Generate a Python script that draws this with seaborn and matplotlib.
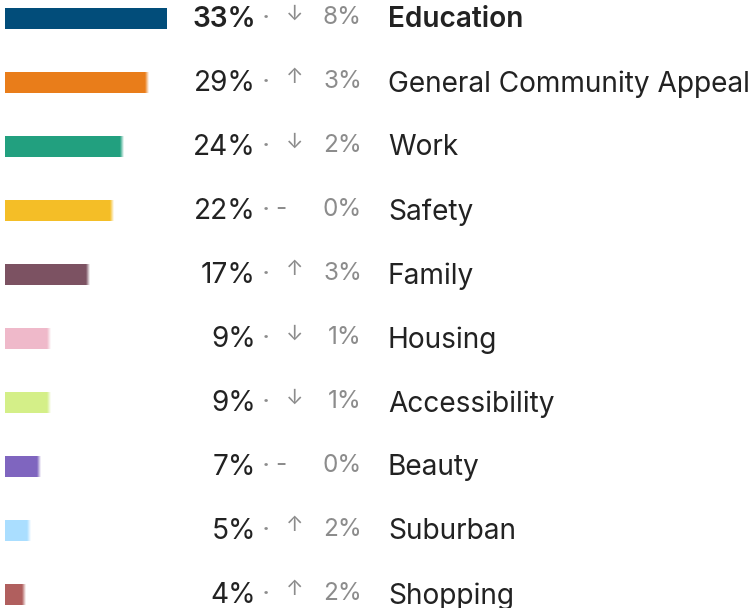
import matplotlib
matplotlib.use("Agg")
import matplotlib.pyplot as plt
import matplotlib.transforms as mtransforms
import numpy as np
import pandas as pd
import seaborn as sns

topics = ["Education", "General Community Appeal", "Work", "Safety", "Family",
          "Housing", "Accessibility", "Beauty", "Suburban", "Shopping"]
shares = [33, 29, 24, 22, 17, 9, 9, 7, 5, 4]
changes = [8, 3, 2, 0, 3, 1, 1, 0, 2, 2]
directions = ["down", "up", "down", "flat", "up", "down", "down", "flat", "up", "up"]
colors = ["#024D7A", "#E97D1A", "#22A07F", "#F4BE27", "#7C5262",
          "#EFB9CA", "#D4EF88", "#7F65BF", "#AADEFF", "#B05F5E"]

df = pd.DataFrame({"topic": topics, "share": shares})

sns.set_theme(style="white")
plt.rcParams["font.family"] = ["Inter", "DejaVu Sans"]

W, H = 752, 608
fig = plt.figure(figsize=(W / 100, H / 100), dpi=100)
ax = fig.add_axes([0, 0, 1, 1])

sns.barplot(data=df, x="share", y="topic", hue="topic", palette=colors,
            legend=False, orient="h", width=0.33, saturation=1,
            ax=ax, linewidth=0)

# pixel geometry: bars start 5px in, 1 percentage point ~ 4.9px, rows 64px apart
px_per_pt = 4.9
x0 = 5
ax.set_xlim(-x0 / px_per_pt, (W - x0) / px_per_pt)
row = 64
top = 18.5
ax.set_ylim((H - top) / row, -top / row)
ax.set_axis_off()

# soft right edge on all but the leading bar
grad = np.zeros((1, 64, 4))
grad[..., :3] = 1.0
grad[..., 3] = np.linspace(0, 1, 64)
fade = 0.8
for i, v in enumerate(shares):
    if i == 0:
        continue
    ax.imshow(grad, extent=[v - fade + 0.3, v + 0.3, i + 0.17, i - 0.17],
              aspect="auto", interpolation="bilinear", zorder=5)
    ax.barh(i, 0.3, left=v, height=0.33, color=colors[i], zorder=4,
            linewidth=0)

trans = mtransforms.blended_transform_factory(ax.transAxes, ax.transData)

def xp(p):
    return p / W

main_size = 20.2
small_size = 17.5
dark = "#222222"
grey = "#8C8C8C"
arrow = {"up": "\u2191", "down": "\u2193"}

for i, (name, v, c, d) in enumerate(zip(topics, shares, changes, directions)):
    weight = "semibold" if i == 0 else "normal"
    ax.text(xp(256), i + 0.02, f"{v}%", transform=trans, ha="right",
            va="center", fontsize=main_size, color=dark, fontweight=weight)
    ax.text(xp(266), i - 0.04, "\u2022", transform=trans, ha="center",
            va="center", fontsize=8, color=grey)
    if d == "flat":
        ax.text(xp(281), i - 0.02, "-", transform=trans, ha="center",
                va="center", fontsize=small_size, color=grey)
    else:
        ax.text(xp(295), i - 0.08, arrow[d], transform=trans, ha="center",
                va="center", fontsize=15, color=grey)
    ax.text(xp(362), i - 0.01, f"{c}%", transform=trans, ha="right",
            va="center", fontsize=small_size, color=grey)
    ax.text(xp(388), i + 0.02, name, transform=trans, ha="left", va="center",
            fontsize=main_size, color=dark, fontweight=weight)

fig.savefig("out.png", dpi=100)
